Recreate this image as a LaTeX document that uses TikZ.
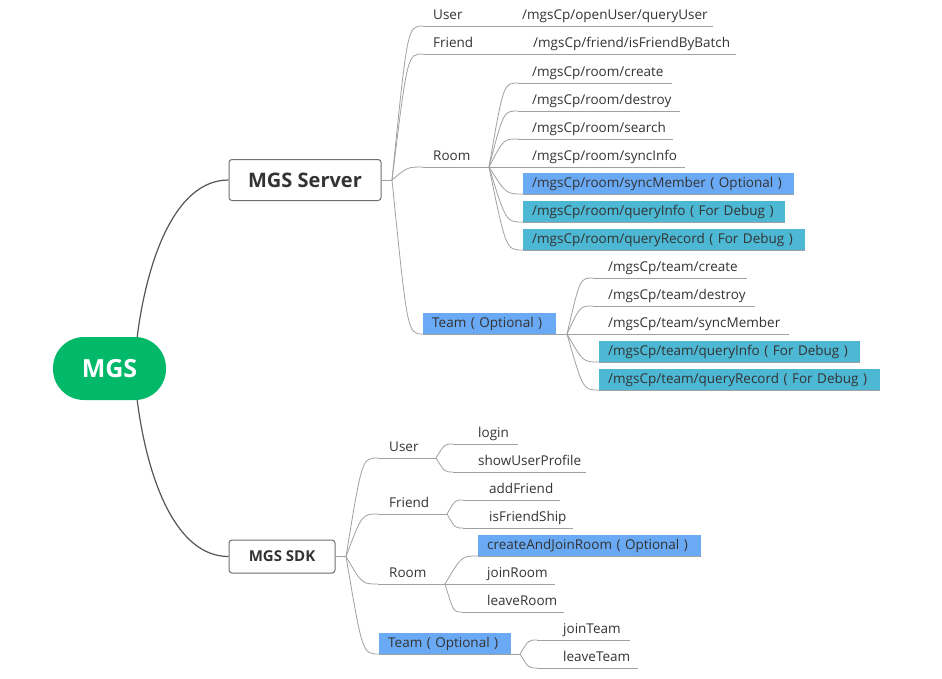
\documentclass[tikz,border=0pt]{standalone}
\usepackage{fontspec}
\setmainfont{Open Sans}
\usetikzlibrary{calc}
\definecolor{txt}{HTML}{333333}
\definecolor{hlblue}{HTML}{6AAAF5}
\definecolor{hlteal}{HTML}{4DB8D4}
\definecolor{mgsgreen}{HTML}{02B96A}
\definecolor{twiggray}{HTML}{A0A0A0}
\definecolor{trunkgray}{HTML}{555555}
\definecolor{boxborder}{HTML}{6E6E6E}
\tikzset{
  lbl/.style={font=\fontsize{13.5}{16}\selectfont, text=txt, inner sep=0pt, anchor=base west},
  hl/.style={font=\fontsize{13.5}{16}\selectfont, text=txt, inner xsep=9pt, inner ysep=0pt, text height=12pt, text depth=3pt, minimum height=21pt, align=left, anchor=south west},
  branch/.style={draw=twiggray, line width=0.8pt},
  trunk/.style={draw=trunkgray, line width=1.2pt},
  topicbox/.style={draw=boxborder, line width=1pt, rounded corners=3pt, fill=white, text=txt, font=\bfseries},
  pill/.style={fill=mgsgreen, rounded corners=31pt, text=white, font=\bfseries\fontsize{25}{30}\selectfont, minimum width=113pt, minimum height=63pt}
}
\newcommand\leafline[6]{%
  \coordinate (#1-s) at (#2,#5);
  \coordinate (#1-e) at (#4,#5);
  \node[lbl] (#1) at (#3,#5-7) {#6};
  \draw[branch] (#1-s) -- (#1-e);
}
\newcommand\leafbox[6]{%
  \pgfmathsetmacro\bw{#3-18}%
  \node[hl, fill=#5, text width=\bw pt] (#1) at (#2,#4) {#6};
  \coordinate (#1-s) at (#1.south west);
  \coordinate (#1-e) at (#1.south east);
  \draw[branch] (#1-s) -- (#1-e);
}
\newcommand\twig[2]{\draw[branch] (#1) .. controls ($(#1|-#2)!0.5!(#2)$) .. (#2);}
\begin{document}
\begin{tikzpicture}[x=1pt,y=-1pt]
\useasboundingbox (0,0) rectangle (942,678);
% root
\node[pill] (mgs) at (109.5,368.5) {MGS};
\node[topicbox, minimum width=152pt, minimum height=41pt, font=\bfseries\fontsize{20}{24}\selectfont] (server) at (305,180) {MGS Server};
\node[topicbox, minimum width=106pt, minimum height=33pt, font=\bfseries\fontsize{15}{18}\selectfont] (sdk) at (282,556.5) {MGS SDK};
\coordinate (mt) at ([xshift=-29pt]mgs.north east);
\coordinate (mb) at ([xshift=-29pt]mgs.south east);
\draw[trunk] (mt) .. controls (147,260) and (175,180) .. (server.west);
\draw[trunk] (mb) .. controls (147,477) and (175,556.5) .. (sdk.west);

% ---------- server ----------
\coordinate (sv) at (392,180);
\draw[branch] (server.east) -- (sv);
\leafline{su}{423}{433}{505}{26}{User}
\leafline{sux}{505}{522}{713}{26}{/mgsCp/openUser/queryUser}
\draw[branch] (su-e) -- (sux-s);
\leafline{sf}{423}{433}{510}{54}{Friend}
\leafline{sfx}{510}{533}{736}{54}{/mgsCp/friend/isFriendByBatch}
\draw[branch] (sf-e) -- (sfx-s);
\leafline{sr}{423}{433}{489}{167}{Room}
\leafbox{st}{423}{133}{334}{hlblue}{Team ( Optional )}
\coordinate (stb) at (567,334);
\draw[branch] (st-e) -- (stb);
\twig{sv}{su-s}
\twig{sv}{sf-s}
\twig{sv}{sr-s}
\twig{sv}{st-s}

% room children
\leafline{r1}{518}{532}{672}{83}{/mgsCp/room/create}
\leafline{r2}{518}{532}{680}{111}{/mgsCp/room/destroy}
\leafline{r3}{518}{532}{673}{139}{/mgsCp/room/search}
\leafline{r4}{518}{532}{685}{167}{/mgsCp/room/syncInfo}
\leafbox{r5}{523}{271}{194}{hlblue}{/mgsCp/room/syncMember ( Optional )}
\leafbox{r6}{523}{262}{222}{hlteal}{/mgsCp/room/queryInfo ( For Debug )}
\leafbox{r7}{523}{282}{250}{hlteal}{/mgsCp/room/queryRecord ( For Debug )}
\foreach \c in {r1,r2,r3,r4,r5,r6,r7}{\twig{sr-e}{\c-s}}

% team children
\leafline{t1}{593}{608}{747}{278}{/mgsCp/team/create}
\leafline{t2}{593}{608}{755}{306}{/mgsCp/team/destroy}
\leafline{t3}{593}{608}{789}{334}{/mgsCp/team/syncMember}
\leafbox{t4}{599}{261}{362}{hlteal}{/mgsCp/team/queryInfo ( For Debug )}
\leafbox{t5}{599}{281}{390}{hlteal}{/mgsCp/team/queryRecord ( For Debug )}
\foreach \c in {t1,t2,t3,t4,t5}{\twig{stb}{\c-s}}

% ---------- sdk ----------
\coordinate (dv) at (346,556.5);
\draw[branch] (sdk.east) -- (dv);
\leafline{du}{378}{389}{436}{458}{User}
\leafline{df}{378}{389}{447}{514}{Friend}
\leafline{dr}{378}{389}{445}{584}{Room}
\leafbox{dt}{379}{132}{654}{hlblue}{Team ( Optional )}
\coordinate (dtb) at (520,654);
\draw[branch] (dt-e) -- (dtb);
\twig{dv}{du-s}
\twig{dv}{df-s}
\twig{dv}{dr-s}
\twig{dv}{dt-s}

\leafline{u1}{453}{478}{518}{444}{login}
\leafline{u2}{453}{478}{586}{472}{showUserProfile}
\twig{du-e}{u1-s}
\twig{du-e}{u2-s}

\leafline{f1}{463}{489}{560}{500}{addFriend}
\leafline{f2}{463}{489}{573}{528}{isFriendShip}
\twig{df-e}{f1-s}
\twig{df-e}{f2-s}

\leafbox{m1}{478}{223}{556}{hlblue}{createAndJoinRoom ( Optional )}
\leafline{m2}{462}{487}{555}{584}{joinRoom}
\leafline{m3}{462}{487}{564}{612}{leaveRoom}
\twig{dr-e}{m1-s}
\twig{dr-e}{m2-s}
\twig{dr-e}{m3-s}

\leafline{j1}{537}{563}{630}{640}{joinTeam}
\leafline{j2}{537}{563}{638}{668}{leaveTeam}
\twig{dtb}{j1-s}
\twig{dtb}{j2-s}
\end{tikzpicture}
\end{document}
